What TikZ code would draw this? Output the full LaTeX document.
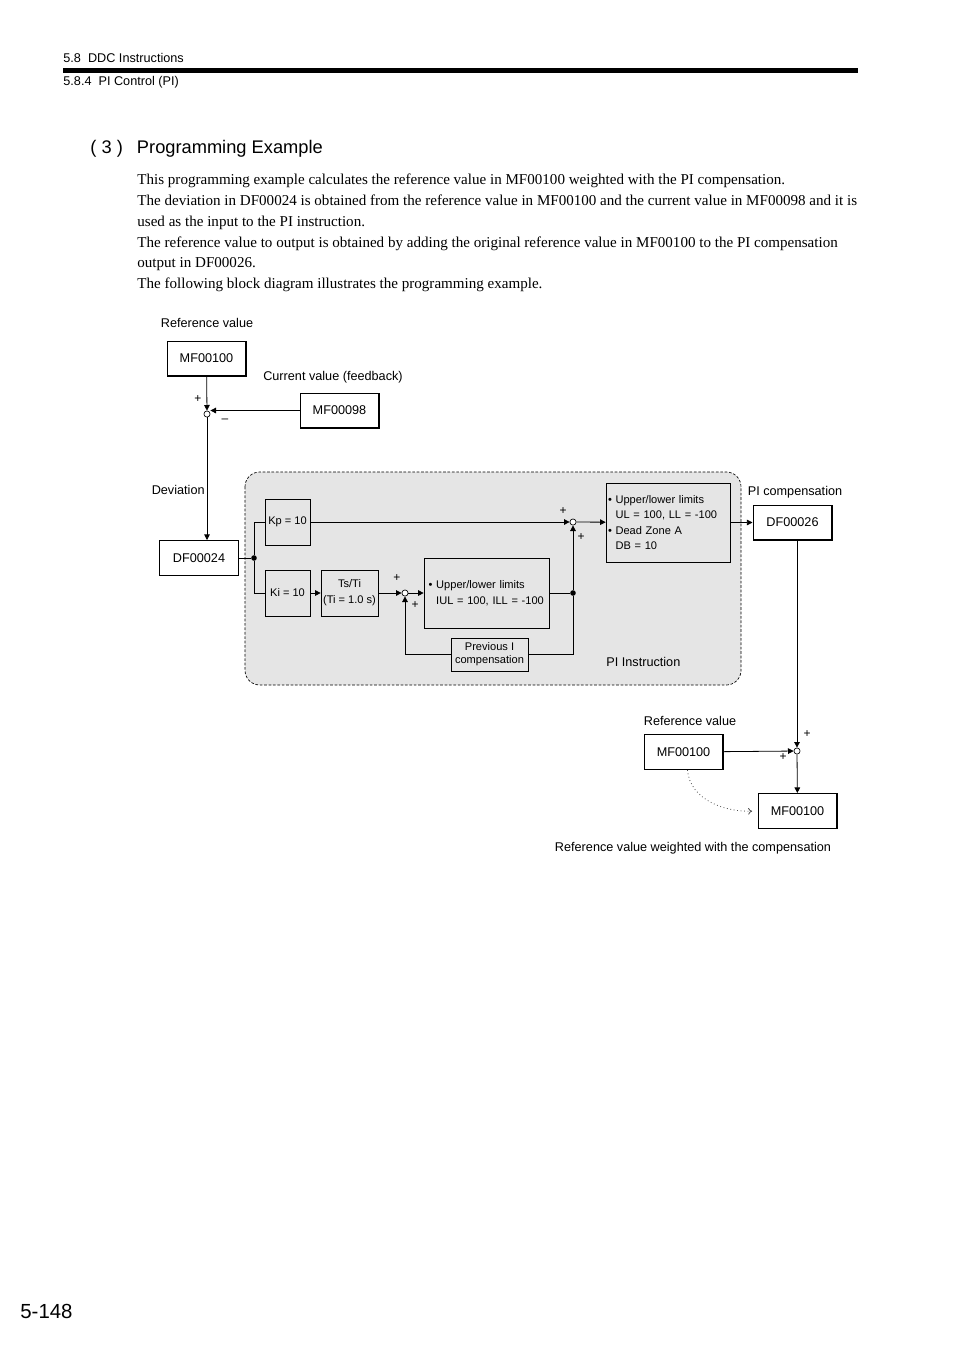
\documentclass[tikz,border=0pt]{standalone}
\usepackage{fontspec}
\setmainfont{Liberation Serif}
\setsansfont{Liberation Sans}
\usetikzlibrary{arrows.meta}

\begin{document}
\begin{tikzpicture}[x=0.75pt,y=-0.75pt,line width=0.6pt,
  lbl/.style={font=\sffamily\fontsize{9.5}{11}\selectfont},
  body/.style={anchor=base west,inner sep=0pt,font=\fontsize{11.3}{13}\selectfont},
  regbox/.style={draw,line width=1pt,minimum width=59pt,minimum height=26pt,inner sep=0pt,lbl},
  blk/.style={draw,line width=0.5pt,inner sep=1pt,align=center,font=\sffamily\fontsize{8.3}{12}\selectfont},
  sumpt/.style={circle,draw,fill=white,minimum size=4.6pt,inner sep=0pt,line width=0.5pt},
  junc/.style={circle,fill,minimum size=4.2pt,inner sep=0pt},
  arr/.style={-{Triangle[length=4.2pt,width=4.2pt]}},
  sgn/.style={font=\sffamily\fontsize{9}{9}\selectfont,inner sep=0pt}]
\useasboundingbox (0,0) rectangle (954,1350);

% page header
\node[anchor=base west,inner sep=0pt,lbl] (sec) at (63,62) {5.8\ \ DDC Instructions};
\fill (63,68) rectangle (858,73);
\node[anchor=base west,inner sep=0pt,lbl] (subsec) at (63,85) {5.8.4\ \ PI Control (PI)};
\node[anchor=base west,inner sep=0pt,font=\sffamily\fontsize{13.7}{16}\selectfont] (title) at (90,153) {( 3 )\hspace{10.6pt}Programming Example};

% text
\node[body] (t1) at (137,184) {This programming example calculates the reference value in MF00100 weighted with the PI compensation.};
\node[body] (t2) at (137,205) {The deviation in DF00024 is obtained from the reference value in MF00100 and the current value in MF00098 and it is};
\node[body] (t3) at (137,226) {used as the input to the PI instruction.};
\node[body] (t4) at (137,247) {The reference value to output is obtained by adding the original reference value in MF00100 to the PI compensation};
\node[body] (t5) at (137,267) {output in DF00026.};
\node[body] (t6) at (137,288) {The following block diagram illustrates the programming example.};

% PI instruction area
\draw[dash pattern=on 2pt off 1.3pt,line width=0.5pt,fill=black!10,rounded corners=11pt] (245,472) rectangle (741,685);
\node[anchor=west,inner sep=0pt,lbl] (pilbl) at (606,662) {PI Instruction};

% deviation
\node[lbl] (reflbl) at (207,323) {Reference value};
\node[regbox] (ref) at (206.5,358.5) {MF00100};
\node[lbl] (fblbl) at (333,377) {Current value (feedback)};
\node[regbox] (fb) at (339.5,410.5) {MF00098};
\node[sumpt] (s1) at (207,414) {};
\node[sgn] (s1a) at (198,399) {+};
\node[sgn] (s1b) at (225,421) {–};
\node[lbl,anchor=east,inner sep=0pt] (devlbl) at (205,490) {Deviation};
\node[regbox] (dev) at (199,558) {DF00024};
\draw[arr] (ref) -- (s1);
\draw[arr] (fb.west) -- (fb.west -| s1.east);
\draw[arr] (s1) -- (s1 |- dev.north);

% P and I paths
\node[junc] (d1) at (254,558) {};
\node[blk,minimum width=33.75pt,minimum height=34.5pt] (kp) at (287.5,522) {Kp = 10};
\node[blk,minimum width=33.75pt,minimum height=34.5pt] (ki) at (287.5,593) {Ki = 10};
\node[blk,minimum width=42.75pt,minimum height=34.5pt] (tsti) at (349.5,593) {Ts/Ti\\(Ti = 1.0 s)};
\node[sumpt] (s2) at (405,593) {};
\node[sgn] (s2a) at (397,578) {+};
\node[sgn] (s2b) at (415,605) {+};
\node[blk,minimum width=93.75pt,minimum height=52.5pt,inner sep=3.5pt,text width=86.75pt,align=left] (ilim) at (486.5,593) {\textbullet\ Upper/lower limits\\\phantom{\textbullet\ }IUL = 100, ILL = -100};
\node[junc] (d2) at (573,593) {};
\node[blk,minimum width=57.75pt,minimum height=24.75pt,font=\sffamily\fontsize{8.3}{9.8}\selectfont] (prev) at (489.5,654.5) {Previous I\\compensation};
\node[sumpt] (s3) at (573,522) {};
\node[sgn] (s3a) at (563,511) {+};
\node[sgn] (s3b) at (581,537) {+};
\node[blk,minimum width=93pt,minimum height=59.25pt,text width=90pt,align=left,font=\sffamily\fontsize{8.3}{11.6}\selectfont] (lim) at (668,522.5) {\textbullet\ Upper/lower limits\\\phantom{\textbullet\ }UL = 100, LL = -100\\\textbullet\ Dead Zone A\\\phantom{\textbullet\ }DB = 10};
\node[lbl] (complbl) at (795,492) {PI compensation};
\node[regbox] (comp) at (792.5,522.5) {DF00026};

\draw (dev) -- (d1);
\draw (d1) |- (kp.west);
\draw (d1) |- (ki.west);
\draw[arr] (ki) -- (tsti);
\draw[arr] (tsti) -- (s2);
\draw[arr] (s2) -- (ilim);
\draw (ilim) -- (d2);
\draw (d2) |- (prev.east);
\draw[arr] (prev.west) -| (s2);
\draw[arr] (d2) -- (s3);
\draw[arr] (kp) -- (s3);
\draw[arr] (s3) -- (lim);
\draw[arr] (lim) -- (comp);

% weighted reference
\node[lbl] (ref2lbl) at (690,721) {Reference value};
\node[regbox] (ref2) at (683.5,752) {MF00100};
\node[sumpt] (s4) at (797,751) {};
\node[sgn] (s4a) at (807,734) {+};
\node[sgn] (s4b) at (783,757) {+};
\node[regbox] (out) at (797.5,811) {MF00100};
\node[lbl] (outlbl) at (693,848) {Reference value weighted with the compensation};
\draw[arr] (s4 |- comp.south) -- (s4);
\draw[arr] (ref2) -- (s4);
\draw[arr] (s4) -- (out);
\draw[dotted,black!70,line width=0.6pt,-{To[length=3pt,width=5pt]},shorten >=4pt] (ref2.south) ++(4,0) .. controls (690,800) and (725,812) .. (out.west);

% page number
\node[anchor=base west,inner sep=0pt,font=\sffamily\fontsize{15.3}{18}\selectfont] (pgno) at (20,1318) {5-148};
\end{tikzpicture}
\end{document}
